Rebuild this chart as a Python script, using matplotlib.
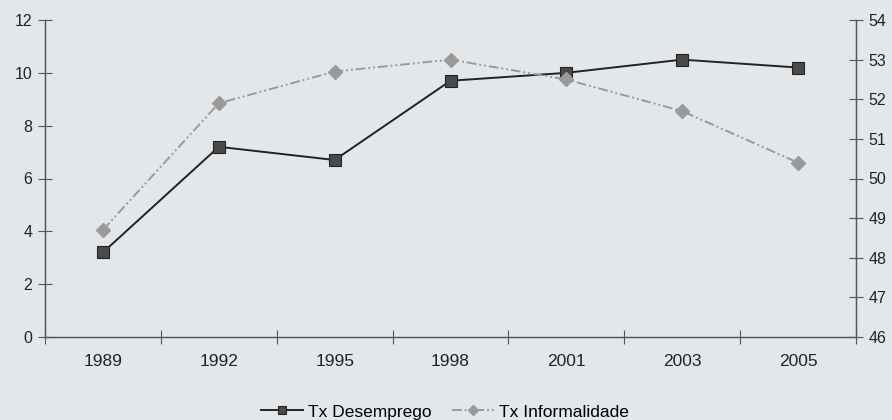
import matplotlib
matplotlib.use('Agg')
import matplotlib.pyplot as plt
import numpy as np

# data
anos = ['1989', '1992', '1995', '1998', '2001', '2003', '2005']
tx_desemprego = [3.2, 7.2, 6.7, 9.7, 10.0, 10.5, 10.2]
tx_informalidade = [48.7, 51.9, 52.7, 53.0, 52.5, 51.7, 50.4]

plt.rcParams['font.family'] = ['Liberation Sans', 'DejaVu Sans']
bg = '#e3e7e9'

fig = plt.figure(figsize=(8.92, 4.2), dpi=100, facecolor=bg)
ax1 = fig.add_axes([45 / 892, 83 / 420, 811 / 892, 317 / 420])
ax1.set_facecolor(bg)
ax2 = ax1.twinx()

x = np.arange(len(anos))

l1, = ax1.plot(x, tx_desemprego, color='#222222', lw=1.4, marker='s', markersize=8,
               markerfacecolor='#4a4a4a', markeredgecolor='#222222', markeredgewidth=0.8,
               label='Tx Desemprego', zorder=3)
l2, = ax2.plot(x, tx_informalidade, color='#9a9a9a', lw=1.4, dashes=[5, 1.5, 1, 1.5, 1, 1.5],
               marker='D', markersize=7, markerfacecolor='#9a9a9a', markeredgecolor='#9a9a9a',
               label='Tx Informalidade', zorder=3)

ax1.set_xlim(-0.5, len(anos) - 0.5)
ax1.set_ylim(0, 12)
ax2.set_ylim(46, 54)
ax1.set_yticks(range(0, 13, 2))
ax2.set_yticks(range(46, 55))

# category labels at centers, tick marks on the boundaries
ax1.set_xticks(x)
ax1.set_xticklabels(anos)
ax1.set_xticks(np.arange(-0.5, len(anos)), minor=True)
ax1.tick_params(axis='x', which='major', length=0, pad=12, labelsize=12.5, colors='#222222')
ax1.tick_params(axis='x', which='minor', direction='inout', length=10, width=0.8, color='#555555')
ax1.tick_params(axis='y', direction='inout', length=10, width=0.8, color='#555555',
                labelsize=11.5, labelcolor='#222222', pad=4)
ax2.tick_params(axis='y', direction='inout', length=10, width=0.8, color='#555555',
                labelsize=11.5, labelcolor='#222222', pad=4)

for a in (ax1, ax2):
    a.spines['top'].set_visible(False)
    for s in ('left', 'right', 'bottom'):
        a.spines[s].set_color('#555555')
        a.spines[s].set_linewidth(0.9)

fig.legend(handles=[l1, l2], loc='center', bbox_to_anchor=(445 / 892, 1 - 412 / 420),
           ncol=2, frameon=False, fontsize=12.5, handlelength=2.4, columnspacing=1.2,
           handletextpad=0.3, borderaxespad=0, markerscale=0.7)

fig.savefig('out.png', dpi=100, facecolor=bg)
